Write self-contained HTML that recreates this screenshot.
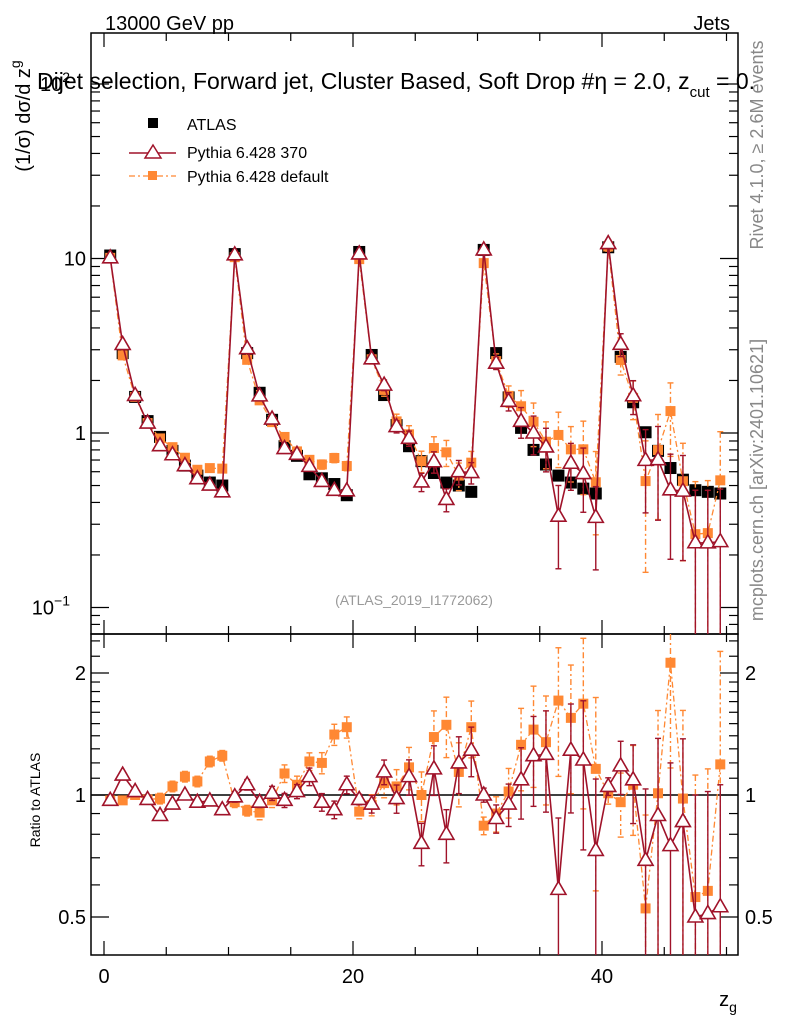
<!DOCTYPE html>
<html><head><meta charset="utf-8">
<style>
html,body{margin:0;padding:0;background:#fff;}
svg{display:block;font-family:"Liberation Sans","DejaVu Sans",sans-serif;}
</style></head>
<body>
<svg id="c" width="786" height="1024" viewBox="0 0 786 1024" xmlns="http://www.w3.org/2000/svg">
<g id="static">
<text x="105" y="30" font-size="20">13000 GeV pp</text>
<text x="730" y="30" font-size="20" text-anchor="end">Jets</text>
<text x="30" y="116" font-size="20" transform="rotate(-90 30 116)" text-anchor="middle">(1/σ) dσ/d z<tspan font-size="14" dy="-10">g</tspan></text>
<text x="763" y="145" font-size="18" fill="#888" transform="rotate(-90 763 145)" text-anchor="middle">Rivet 4.1.0, ≥ 2.6M events</text>
<text x="763" y="480" font-size="18" fill="#888" transform="rotate(-90 763 480)" text-anchor="middle">mcplots.cern.ch [arXiv:2401.10621]</text>
<text x="414" y="605" font-size="14" fill="#999" text-anchor="middle">(ATLAS_2019_I1772062)</text>
<text x="40" y="800" font-size="14" transform="rotate(-90 40 800)" text-anchor="middle">Ratio to ATLAS</text>
<text x="728" y="1006" font-size="20" text-anchor="middle">z<tspan font-size="14" dy="6">g</tspan></text>
<g>
<rect x="148" y="118" width="10" height="10" fill="#000"/>
<text x="187" y="130" font-size="16">ATLAS</text>
<line x1="129" y1="153" x2="176" y2="153" stroke="#a0132a" stroke-width="1.5"/>
<polygon points="153,145 145,158 161,158" fill="#fff" stroke="#a0132a" stroke-width="1.5"/>
<text x="187" y="158" font-size="16">Pythia 6.428 370</text>
<line x1="129" y1="176" x2="176" y2="176" stroke="#ff8833" stroke-width="1.2" stroke-dasharray="6,3,2,3"/>
<rect x="148" y="171" width="9" height="9" fill="#ff8833"/>
<text x="187" y="182" font-size="16">Pythia 6.428 default</text>
</g>
</g>
<g id="dyn"></g>
<text x="37" y="89" font-size="23">Dijet selection, Forward jet, Cluster Based, Soft Drop #η = 2.0, z<tspan font-size="15" dy="8">cut</tspan><tspan dy="-8"> = 0.</tspan></text>
</svg>
<script>
const binCenters=[0.5,1.5,2.5,3.5,4.5,5.5,6.5,7.5,8.5,9.5,10.5,11.5,12.5,13.5,14.5,15.5,16.5,17.5,18.5,19.5,20.5,21.5,22.5,23.5,24.5,25.5,26.5,27.5,28.5,29.5,30.5,31.5,32.5,33.5,34.5,35.5,36.5,37.5,38.5,39.5,40.5,41.5,42.5,43.5,44.5,45.5,46.5,47.5,48.5,49.5];
const atlasValues=[10.4,2.87,1.61,1.17,0.95,0.79,0.65,0.57,0.52,0.50,10.6,2.87,1.70,1.19,0.84,0.74,0.58,0.55,0.51,0.44,10.9,2.80,1.65,1.11,0.84,0.69,0.59,0.52,0.50,0.46,11.2,2.87,1.60,1.07,0.80,0.66,0.57,0.52,0.48,0.45,11.6,2.73,1.50,1.01,0.79,0.63,0.54,0.47,0.46,0.45];
const ratio370=[0.97,1.12,1.02,0.975,0.89,0.95,1.0,0.96,0.967,0.92,0.99,1.06,0.96,1.01,0.97,1.02,1.11,0.96,0.92,1.06,0.975,0.95,1.14,0.98,1.11,0.76,1.16,0.80,1.2,1.29,1.0,0.875,0.95,1.09,1.25,1.26,0.585,1.29,1.22,0.73,1.05,1.18,1.09,0.69,0.89,0.75,0.86,0.50,0.51,0.53];
const ratioDefault=[0.97,0.97,1.0,0.975,0.98,1.05,1.11,1.08,1.21,1.25,0.96,0.915,0.905,0.97,1.13,1.06,1.21,1.2,1.41,1.47,0.91,0.945,1.07,1.05,1.17,1.0,1.39,1.49,1.14,1.47,0.84,0.9,1.02,1.33,1.45,1.35,1.71,1.55,1.68,1.16,1.01,0.96,1.06,0.525,1.01,2.12,0.98,0.56,0.58,1.19];
const relErr370=[0.02,0.02,0.02,0.02,0.02,0.02,0.02,0.02,0.02,0.02,0.03,0.03,0.03,0.04,0.04,0.04,0.05,0.05,0.05,0.05,0.03,0.05,0.07,0.08,0.1,0.12,0.14,0.15,0.16,0.14,0.04,0.08,0.12,0.2,0.25,0.28,0.5,0.3,0.4,0.5,0.05,0.15,0.22,0.5,0.55,0.6,0.6,1,1,1];
const relErrDefault=[0.02,0.02,0.02,0.02,0.03,0.03,0.03,0.03,0.03,0.03,0.03,0.03,0.04,0.04,0.05,0.05,0.05,0.06,0.06,0.06,0.04,0.06,0.08,0.1,0.12,0.14,0.16,0.17,0.18,0.16,0.05,0.1,0.14,0.23,0.28,0.3,0.35,0.35,0.45,0.5,0.06,0.18,0.25,0.7,0.6,0.45,0.65,1,1,0.9];
const mainTicks=[{v:0.1,l:"10",e:"−1"},{v:1,l:"1",e:""},{v:10,l:"10",e:""},{v:100,l:"10",e:"2"}];
const ratioTicks=[{v:0.5,l:"0.5"},{v:1,l:"1"},{v:2,l:"2"}];
const xTickLabels=[0,20,40];

const NS="http://www.w3.org/2000/svg";
const L=91,R=738,T=33,MB=634,B=955;
const RED="#a0132a",ORG="#ff8833";
const xs=v=>104+12.45*v;
const ym=v=>433-174.5*Math.log10(v);
const yr=v=>795-122*Math.log2(v);
const dyn=document.getElementById('dyn');
function mk(tag,attrs,parent){const e=document.createElementNS(NS,tag);for(const k in attrs)e.setAttribute(k,attrs[k]);(parent||dyn).appendChild(e);return e;}
const clampM=y=>Math.max(T,Math.min(MB,y));
const clampR=y=>Math.max(MB,Math.min(B,y));

let f=mk('rect',{x:L,y:T,width:R-L,height:MB-T,fill:'none',stroke:'#000','stroke-width':1.5});


f=mk('rect',{x:L,y:MB,width:R-L,height:B-MB,fill:'none',stroke:'#000','stroke-width':1.5});


let ul=mk('line',{x1:L,x2:R,y1:yr(1),y2:yr(1),stroke:'#000','stroke-width':1.5});



for(let v=0;v<=50;v+=5){
  const len=(v%20===0)?14:8;
  [[T,T+len],[MB,MB-len],[MB,MB+len],[B,B-len]].forEach(p=>{
    const t=mk('line',{x1:xs(v),x2:xs(v),y1:p[0],y2:p[1],stroke:'#000','stroke-width':1.2});
    
    
  });
}
xTickLabels.forEach(v=>{
  const t=mk('text',{x:xs(v),y:983,'font-size':20,'text-anchor':'middle'});t.textContent=v;
  
  
});
for(let d=-2;d<=2;d++){
  for(let m=1;m<10;m++){
    const v=m*Math.pow(10,d),y=ym(v);if(y<T||y>MB)continue;
    const len=m===1?18:9;
    [[L,L+len],[R,R-len]].forEach(p=>{
      const t=mk('line',{x1:p[0],x2:p[1],y1:y,y2:y,stroke:'#000','stroke-width':1.2});
      
      
    });
  }
}
mainTicks.forEach(tk=>{
  const t=mk('text',{x:tk.e?70:86,y:ym(tk.v)+7,'font-size':20,'text-anchor':'end'});
  t.textContent=tk.l;
  if(tk.e){const s=mk('tspan',{'font-size':14,dy:-9},t);s.textContent=tk.e;}
  
  
});
[0.4,0.5,0.6,0.7,0.8,0.9,1,1.1,1.2,1.3,1.4,1.5,1.6,1.7,1.8,1.9,2,2.2,2.4].forEach(v=>{
  const y=yr(v);if(y<MB||y>B)return;
  const len=(v===0.5||v===1||v===2)?18:9;
  [[L,L+len],[R,R-len]].forEach(p=>{
    const t=mk('line',{x1:p[0],x2:p[1],y1:y,y2:y,stroke:'#000','stroke-width':1.2});
    
    
  });
});
ratioTicks.forEach(tk=>{
  [[86,'end'],[745,'start']].forEach(p=>{
    const t=mk('text',{x:p[0],y:yr(tk.v)+7,'font-size':20,'text-anchor':p[1]});t.textContent=tk.l;
    
    
  });
});

function drawSeries(ratio,relErr,color,dash,kind,name){
  const gm=mk('g',{});
  
  
  const gr=mk('g',{});
  
  
  const ptsM=[],ptsR=[];
  binCenters.forEach((c,i)=>{
    const val=atlasValues[i]*ratio[i],x=xs(c);
    const e=relErr[i];
    ptsM.push([x,ym(val)]);ptsR.push([x,yr(ratio[i])]);
    const lo=Math.max(val*(1-e),1e-4),hi=val*(1+e);
    const rlo=Math.max(ratio[i]*(1-e),1e-4),rhi=ratio[i]*(1+e);
    [[gm,clampM(ym(hi)),clampM(ym(lo))],[gr,clampR(yr(rhi)),clampR(yr(rlo))]].forEach(p=>{
      const b=mk('line',{x1:x,x2:x,y1:p[1],y2:p[2],stroke:color,'stroke-width':1.4,'stroke-dasharray':dash},p[0]);
      
      
      [p[1],p[2]].forEach(yy=>{if(yy>T+1&&yy<B-1&&yy!==MB){const cap=mk('line',{x1:x-3,x2:x+3,y1:yy,y2:yy,stroke:color,'stroke-width':1.4},p[0]);
        
        }});
    });
  });
  [[gm,ptsM],[gr,ptsR]].forEach(p=>{
    const pl=mk('polyline',{points:p[1].map(q=>q.join(',')).join(' '),fill:'none',stroke:color,'stroke-width':kind==='tri'?1.6:1.3,'stroke-dasharray':dash},p[0]);
    
    
    p[1].forEach(q=>{
      let m;
      if(kind==='tri'){m=mk('polygon',{points:`${q[0]},${q[1]-8} ${q[0]-7.5},${q[1]+5} ${q[0]+7.5},${q[1]+5}`,fill:'#fff',stroke:color,'stroke-width':1.6},p[0]);}
      else{m=mk('rect',{x:q[0]-5,y:q[1]-5,width:10,height:10,fill:color},p[0]);}
      
      
    });
  });
}
const ga=mk('g',{});


binCenters.forEach((c,i)=>{
  const r=mk('rect',{x:xs(c)-6,y:ym(atlasValues[i])-6,width:12,height:12,fill:'#000'},ga);
  
  
});
drawSeries(ratioDefault,relErrDefault,ORG,'6,3,2,3','sq','pythia-default');
drawSeries(ratio370,relErr370,RED,'none','tri','pythia-370');
</script>
</body></html>
